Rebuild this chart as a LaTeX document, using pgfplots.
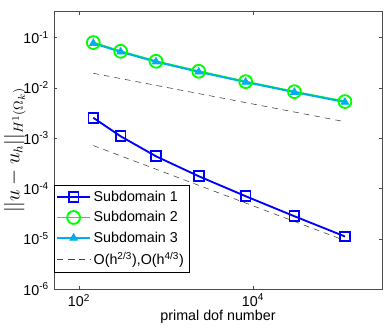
\documentclass[border=0pt]{standalone}
\usepackage{pgfplots}
\pgfplotsset{compat=1.18}
\usepackage{fontspec}
\setmainfont{Liberation Sans}

\begin{document}
\begin{tikzpicture}
% page size = 390x329 px at 0.7pt per px, axis box at origin
\useasboundingbox (-37.8pt,-28pt) rectangle (235.2pt,202.3pt);
\begin{axis}[
    scale only axis,
    width=229.6pt,
    height=194.2pt,
    xmode=log, ymode=log,
    log basis x=10, log basis y=10,
    xmin=51.6, xmax=304000,
    ymin=1e-6, ymax=0.329,
    xtick={100,10000},
    xminorticks=false,
    ytick={1e-6,1e-5,1e-4,1e-3,1e-2,1e-1},
    xticklabel={10\textsuperscript{\pgfmathtruncatemacro\e{round(\tick)}\e}},
    yticklabel={10\textsuperscript{\pgfmathtruncatemacro\e{round(\tick)}\e}},
    tick align=inside,
    major tick length=2.2pt,
    minor tick length=1.3pt,
    tick style={black!70},
    axis line style={black!70},
    xlabel={primal dof number},
    ylabel={$||u-u_h||_{H^1(\Omega_k)}$},
    xlabel style={font=\normalsize, yshift=4pt},
    ylabel style={font=\fontsize{13.5}{15}\selectfont, yshift=-8.5pt},
    legend style={at={(0,0.061)}, anchor=south west, draw=black,
        font=\normalsize, row sep=1.6pt, inner sep=1.5pt},
    legend cell align={left},
    legend image code/.code={%
        \draw[mark repeat=2,mark phase=2] plot coordinates {(0cm,0cm)(0.4cm,0cm)(0.8cm,0cm)};},
]
% Subdomain 1
\addplot[blue, line width=1.3pt, mark=square, mark size=3.4pt,
    mark options={line width=1.3pt}] coordinates {
    (146, 0.00254)
    (301, 0.00109)
    (767, 0.000436)
    (2377, 0.000175)
    (8240, 0.0000700)
    (29900, 0.0000280)
    (114000, 0.0000111)
};
% Subdomain 2
\addplot[green, line width=1.3pt, mark=o, mark size=4.5pt,
    mark options={line width=1.3pt}] coordinates {
    (146, 0.0796)
    (301, 0.0534)
    (767, 0.0338)
    (2377, 0.0214)
    (8240, 0.0133)
    (29900, 0.0084)
    (114000, 0.00534)
};
% Subdomain 3
\addplot[cyan, line width=1.3pt, mark=triangle*, mark size=3pt,
    mark options={line width=0.6pt}] coordinates {
    (146, 0.0770)
    (301, 0.0520)
    (767, 0.0330)
    (2377, 0.0208)
    (8240, 0.0130)
    (29900, 0.0082)
    (114000, 0.00520)
};
% reference slopes
\addplot[black!75, thin, dash pattern=on 4pt off 3.5pt] coordinates {
    (146, 0.0195) (114000, 0.00212)
};
\addplot[black!75, thin, dash pattern=on 4pt off 3.5pt, forget plot] coordinates {
    (146, 0.000713) (114000, 0.0000092)
};
\legend{Subdomain 1, Subdomain 2, Subdomain 3,
    {O(h\textsuperscript{2/3}),O(h\textsuperscript{4/3})}}
\end{axis}
\end{tikzpicture}
\end{document}
